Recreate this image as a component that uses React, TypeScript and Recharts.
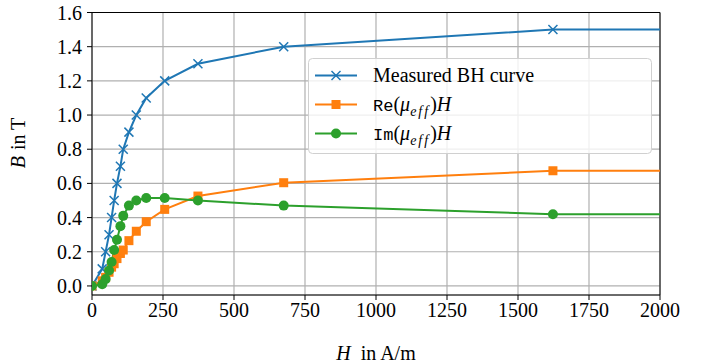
import { LineChart, Line, XAxis, YAxis, CartesianGrid, ReferenceLine } from 'recharts'

// field strength H (A/m) for every sample, last one sits past the visible range
const H = [0, 36, 48, 60, 69, 78, 88, 100, 110, 130, 156, 191, 256, 373, 675, 1623, 2500]
const bMeasured = [0, 0.1, 0.2, 0.3, 0.4, 0.5, 0.6, 0.7, 0.8, 0.9, 1.0, 1.1, 1.2, 1.3, 1.4, 1.5, 1.5]
const bReal = [0, 0.03, 0.05, 0.08, 0.11, 0.13, 0.16, 0.19, 0.21, 0.265, 0.32, 0.376, 0.448, 0.526, 0.604, 0.674, 0.674]
const bImag = [0, 0.01, 0.04, 0.09, 0.14, 0.21, 0.27, 0.35, 0.41, 0.47, 0.5, 0.515, 0.515, 0.5, 0.47, 0.42, 0.42]

const xTicks = [0, 250, 500, 750, 1000, 1250, 1500, 1750, 2000]
const yTicks = [0, 0.2, 0.4, 0.6, 0.8, 1.0, 1.2, 1.4, 1.6]

const BLUE = '#1f77b4'
const ORANGE = '#ff7f0e'
const GREEN = '#2ca02c'
const SERIF = '"Liberation Serif", "DejaVu Serif", serif'
const MONO = '"Liberation Mono", "DejaVu Sans Mono", monospace'

const data = H.map((h, i) => ({ h, measured: bMeasured[i], re: bReal[i], im: bImag[i] }))

const crossDot = (p: any) => (
  <g key={`x${p.index}`} stroke={BLUE} strokeWidth={1.5}>
    <line x1={p.cx - 4.5} y1={p.cy - 4.5} x2={p.cx + 4.5} y2={p.cy + 4.5} />
    <line x1={p.cx - 4.5} y1={p.cy + 4.5} x2={p.cx + 4.5} y2={p.cy - 4.5} />
  </g>
)
const squareDot = (p: any) => (
  <rect key={`s${p.index}`} x={p.cx - 4.5} y={p.cy - 4.5} width={9} height={9} fill={ORANGE} />
)
const circleDot = (p: any) => <circle key={`c${p.index}`} cx={p.cx} cy={p.cy} r={5} fill={GREEN} />

const xTick = (p: any) => (
  <text x={p.x} y={p.y + 15} textAnchor="middle" fontFamily={SERIF} fontSize={20} fill="#000">
    {p.payload.value}
  </text>
)
const yTick = (p: any) => (
  <text x={p.x - 3} y={p.y + 7} textAnchor="end" fontFamily={SERIF} fontSize={20} fill="#000">
    {p.payload.value.toFixed(1)}
  </text>
)

function MuText({ prefix, y }: { prefix: string; y: number }) {
  return (
    <text x={65} y={y} fontFamily={SERIF} fontSize={20} fill="#000">
      <tspan fontFamily={MONO} fontSize={17}>{prefix}</tspan>
      <tspan>(</tspan>
      <tspan fontStyle="italic">μ</tspan>
      <tspan fontStyle="italic" fontSize={14} dy={5} letterSpacing={2}>eff</tspan>
      <tspan dy={-5}>)</tspan>
      <tspan fontStyle="italic">H</tspan>
    </text>
  )
}

function Handle({ color, kind, y }: { color: string; kind: string; y: number }) {
  return (
    <g>
      <line x1={7} y1={y} x2={49} y2={y} stroke={color} strokeWidth={2} />
      {kind === 'x' && (
        <g stroke={color} strokeWidth={1.5}>
          <line x1={23.5} y1={y - 4.5} x2={32.5} y2={y + 4.5} />
          <line x1={23.5} y1={y + 4.5} x2={32.5} y2={y - 4.5} />
        </g>
      )}
      {kind === 's' && <rect x={23.5} y={y - 4.5} width={9} height={9} fill={color} />}
      {kind === 'o' && <circle cx={28} cy={y} r={5} fill={color} />}
    </g>
  )
}

function LegendBox() {
  return (
    <svg width={344} height={96} style={{ position: 'absolute', left: 307.5, top: 57.5 }}>
      <rect x={0.5} y={0.5} width={343} height={95} rx={4} fill="#fff" fillOpacity={0.8} stroke="#d0d0d0" />
      <Handle color={BLUE} kind="x" y={17.5} />
      <Handle color={ORANGE} kind="s" y={46.5} />
      <Handle color={GREEN} kind="o" y={75.5} />
      <text x={65} y={23.5} fontFamily={SERIF} fontSize={20} fill="#000">
        Measured BH curve
      </text>
      <MuText prefix="Re" y={52.5} />
      <MuText prefix="Im" y={82} />
    </svg>
  )
}

export default function App() {
  return (
    <div style={{ position: 'fixed', left: 0, top: 0, width: 712, height: 364, background: '#fff' }}>
      <LineChart
        width={712}
        height={364}
        data={data}
        margin={{ top: 12.5, right: 52, bottom: 0, left: 0 }}
        style={{ fontFamily: SERIF }}
      >
        <CartesianGrid stroke="#b0b0b0" strokeWidth={1.2} />
        <XAxis
          dataKey="h"
          type="number"
          domain={[0, 2000]}
          ticks={xTicks}
          allowDataOverflow
          tick={xTick}
          tickSize={5}
          stroke="#000"
          height={69}
          label={(p: any) => (
            <text
              x={p.viewBox.x + p.viewBox.width / 2}
              y={360}
              textAnchor="middle"
              fontFamily={SERIF}
              fontSize={20}
              fill="#000"
            >
              <tspan fontStyle="italic">H</tspan>
              <tspan dx={10}>in A/m</tspan>
            </text>
          )}
        />
        <YAxis
          type="number"
          domain={[-0.053, 1.6]}
          ticks={yTicks}
          allowDataOverflow
          tick={yTick}
          tickSize={5}
          stroke="#000"
          width={92}
          label={() => (
            <text
              x={25}
              y={143}
              textAnchor="middle"
              fontFamily={SERIF}
              fontSize={20}
              fill="#000"
              transform="rotate(-90 25 143)"
            >
              <tspan fontStyle="italic">B</tspan>
              <tspan dx={6}>in T</tspan>
            </text>
          )}
        />
        <ReferenceLine y={1.6} stroke="#000" strokeWidth={1} />
        <ReferenceLine x={2000} stroke="#000" strokeWidth={1} />
        <Line dataKey="measured" stroke={BLUE} strokeWidth={2} dot={crossDot} isAnimationActive={false} />
        <Line dataKey="re" stroke={ORANGE} strokeWidth={2} dot={squareDot} isAnimationActive={false} />
        <Line dataKey="im" stroke={GREEN} strokeWidth={2} dot={circleDot} isAnimationActive={false} />
      </LineChart>
      <LegendBox />
    </div>
  )
}
